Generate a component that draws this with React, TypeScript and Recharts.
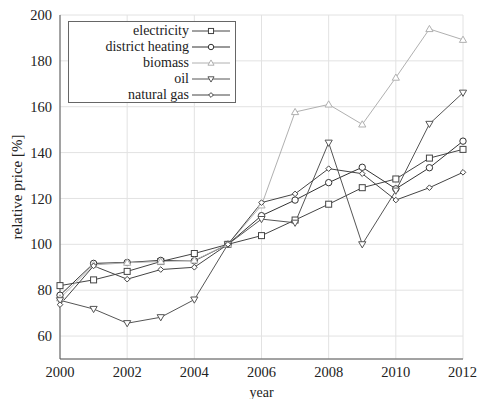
import React from 'react';
import {
  CartesianGrid,
  Legend,
  Line,
  LineChart,
  XAxis,
  YAxis,
} from 'recharts';

const years = [2000, 2001, 2002, 2003, 2004, 2005, 2006, 2007, 2008, 2009, 2010, 2011, 2012];

const electricity = [82, 84.5, 88.2, 92.5, 96, 100, 103.8, 110.6, 117.5, 124.7, 128.5, 137.6, 141.4];
const districtHeating = [77.8, 91.7, 92.1, 93, 92.8, 100, 112.5, 119.3, 126.9, 133.6, 124.2, 133.4, 145];
const biomass = [76.5, 91, 92, 92.5, 93, 100, 117, 157.7, 161, 152.3, 172.7, 193.9, 189.2];
const oil = [75.6, 71.8, 65.6, 68.2, 75.9, 100, 111, 109.4, 144.3, 100, 123.4, 152.5, 166.1];
const naturalGas = [73.7, 90.6, 84.8, 89, 90, 100, 118.2, 122, 133, 130.8, 119.3, 124.7, 131.4];

const xTicks = [2000, 2002, 2004, 2006, 2008, 2010, 2012];
const yTicks = [60, 80, 100, 120, 140, 160, 180, 200];
const yMinorTicks = Array.from({ length: 76 }, (_, i) => 50 + i * 2);

type Shape = 'square' | 'circle' | 'triangle' | 'triangleDown' | 'diamond';

const SERIES: { key: string; name: string; color: string; shape: Shape }[] = [
  { key: 'electricity', name: 'electricity', color: '#444', shape: 'square' },
  { key: 'districtHeating', name: 'district heating', color: '#333', shape: 'circle' },
  { key: 'biomass', name: 'biomass', color: '#b0b0b0', shape: 'triangle' },
  { key: 'oil', name: 'oil', color: '#555', shape: 'triangleDown' },
  { key: 'naturalGas', name: 'natural gas', color: '#444', shape: 'diamond' },
];

const data = years.map((year, i) => ({
  year,
  electricity: electricity[i],
  districtHeating: districtHeating[i],
  biomass: biomass[i],
  oil: oil[i],
  naturalGas: naturalGas[i],
}));

const FONT = '"Liberation Serif", "Times New Roman", serif';

function Marker({ shape, cx, cy, color, s = 1 }: { shape: Shape; cx: number; cy: number; color: string; s?: number }) {
  const common = { fill: 'white', stroke: color, strokeWidth: 1 };
  switch (shape) {
    case 'square':
      return <rect x={cx - 3 * s} y={cy - 3 * s} width={6 * s} height={6 * s} {...common} />;
    case 'circle':
      return <circle cx={cx} cy={cy} r={3.2 * s} {...common} />;
    case 'triangle':
      return <polygon points={`${cx},${cy - 3.6 * s} ${cx - 3.6 * s},${cy + 2.6 * s} ${cx + 3.6 * s},${cy + 2.6 * s}`} {...common} />;
    case 'triangleDown':
      return <polygon points={`${cx},${cy + 3.6 * s} ${cx - 3.6 * s},${cy - 2.6 * s} ${cx + 3.6 * s},${cy - 2.6 * s}`} {...common} />;
    default:
      return <polygon points={`${cx},${cy - 2.8 * s} ${cx + 2.8 * s},${cy} ${cx},${cy + 2.8 * s} ${cx - 2.8 * s},${cy}`} {...common} />;
  }
}

function LegendBox() {
  return (
    <div
      style={{
        width: 166,
        height: 79,
        border: '1px solid #666',
        background: 'white',
        fontFamily: FONT,
        fontSize: 14,
        color: '#222',
        paddingTop: 1,
      }}
    >
      {SERIES.map((s) => (
        <div key={s.key} style={{ display: 'flex', alignItems: 'center', height: 16 }}>
          <span style={{ width: 120, textAlign: 'right', lineHeight: '16px', fontFamily: FONT }}>{s.name}</span>
          <svg width={42} height={16} style={{ marginLeft: 3 }}>
            <line x1={0} x2={38} y1={8} y2={8} stroke={s.color} strokeWidth={1} />
            <Marker shape={s.shape} cx={19} cy={8} color={s.color} s={0.85} />
          </svg>
        </div>
      ))}
    </div>
  );
}

export default function App() {
  return (
    <div style={{ position: 'absolute', left: 0, top: 0, width: 477, height: 399, background: 'white', fontFamily: FONT }}>
      <LineChart
        width={477}
        height={399}
        data={data}
        margin={{ top: 15, right: 14, left: 0, bottom: 0 }}
        style={{ fontFamily: FONT }}
      >
        <CartesianGrid stroke="#e2e2e2" strokeWidth={1} />
        <XAxis
          dataKey="year"
          type="number"
          domain={[2000, 2012]}
          ticks={xTicks}
          height={40}
          stroke="#555"
          tickLine={false}
          tick={{ fill: '#222', fontSize: 14.5, fontFamily: FONT }}
          label={{ value: 'year', position: 'insideBottom', offset: 2, fill: '#222', fontSize: 14, fontFamily: FONT }}
        />
        <XAxis
          xAxisId="top"
          dataKey="year"
          type="number"
          orientation="top"
          domain={[2000, 2012]}
          ticks={xTicks}
          mirror
          height={0}
          stroke="#555"
          tick={false}
          tickLine={false}
        />
        <YAxis
          type="number"
          domain={[50, 200]}
          ticks={yTicks}
          width={60}
          stroke="#555"
          tickLine={false}
          tick={{ fill: '#222', fontSize: 14.5, fontFamily: FONT }}
          label={{
            value: 'relative price [%]',
            angle: -90,
            position: 'insideLeft',
            offset: 17,
            fill: '#222',
            fontSize: 15,
            fontFamily: FONT,
            style: { textAnchor: 'middle' },
          }}
        />
        <YAxis
          yAxisId="minorLeft"
          type="number"
          domain={[50, 200]}
          ticks={yMinorTicks}
          mirror
          width={0}
          axisLine={false}
          tick={false}
          tickSize={3}
          stroke="#999"
        />
        <YAxis
          yAxisId="majorLeft"
          type="number"
          domain={[50, 200]}
          ticks={yTicks}
          mirror
          width={0}
          axisLine={false}
          tick={false}
          tickSize={6}
          stroke="#888"
        />
        <YAxis
          yAxisId="minorRight"
          type="number"
          orientation="right"
          domain={[50, 200]}
          ticks={yMinorTicks}
          mirror
          width={0}
          stroke="#666"
          tick={false}
          tickSize={3}
        />
        <YAxis
          yAxisId="majorRight"
          type="number"
          orientation="right"
          domain={[50, 200]}
          ticks={yTicks}
          mirror
          width={0}
          axisLine={false}
          tick={false}
          tickSize={6}
          stroke="#888"
        />
        <Legend
          layout="vertical"
          align="center"
          verticalAlign="middle"
          wrapperStyle={{ left: 68, top: 21, width: 168, height: 81 }}
          content={() => <LegendBox />}
        />
        {SERIES.map((s) => (
          <Line
            key={s.key}
            dataKey={s.key}
            name={s.name}
            type="linear"
            stroke={s.color}
            strokeWidth={1}
            isAnimationActive={false}
            dot={(props: any) => (
              <Marker key={`${s.key}-${props.index}`} shape={s.shape} cx={props.cx} cy={props.cy} color={s.color} />
            )}
            activeDot={false}
          />
        ))}
      </LineChart>
    </div>
  );
}
